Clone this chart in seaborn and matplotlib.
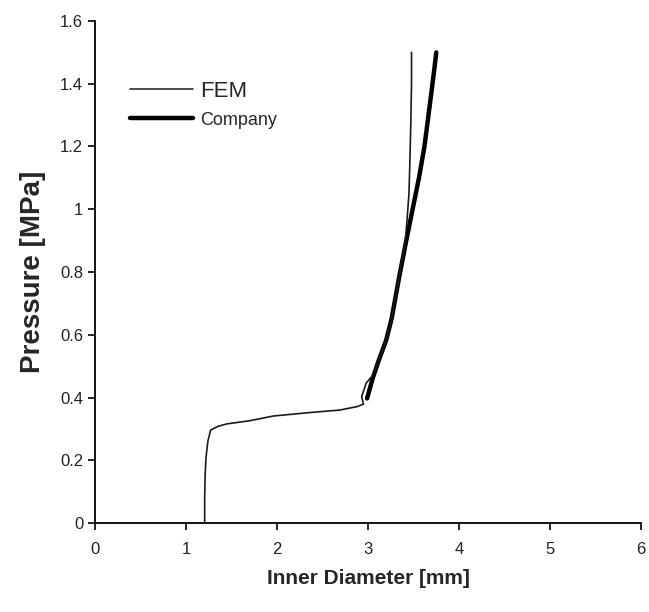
import matplotlib
matplotlib.use("Agg")
import matplotlib.pyplot as plt
import seaborn as sns
import pandas as pd
from matplotlib.lines import Line2D

# FEM curve (inner diameter in mm, pressure in MPa)
fem_d = [1.205, 1.205, 1.21, 1.22, 1.24, 1.27, 1.35, 1.45, 1.70, 1.96, 2.03, 2.36,
         2.69, 2.88, 2.95, 2.93, 2.98, 3.05, 3.12, 3.20, 3.26, 3.34, 3.41, 3.43,
         3.45, 3.46, 3.47, 3.478, 3.478]
fem_p = [0.00, 0.08, 0.15, 0.21, 0.26, 0.296, 0.308, 0.316, 0.326, 0.341, 0.343, 0.352,
         0.360, 0.371, 0.379, 0.403, 0.446, 0.47, 0.52, 0.583, 0.652, 0.78, 0.90, 0.97,
         1.05, 1.15, 1.27, 1.40, 1.50]

# Company curve
comp_d = [2.99, 3.05, 3.12, 3.20, 3.26, 3.34, 3.42, 3.49, 3.56, 3.62, 3.66, 3.70, 3.73, 3.75]
comp_p = [0.397, 0.46, 0.52, 0.583, 0.652, 0.78, 0.90, 1.00, 1.10, 1.20, 1.29, 1.38, 1.45, 1.50]

x_ticks = [0, 1, 2, 3, 4, 5, 6]
y_ticks = [0, 0.2, 0.4, 0.6, 0.8, 1, 1.2, 1.4, 1.6]
y_labels = ["0", "0.2", "0.4", "0.6", "0.8", "1", "1.2", "1.4", "1.6"]

sns.set_style("ticks")
plt.rcParams["font.family"] = ["Liberation Sans", "DejaVu Sans"]

fem = pd.DataFrame({"d": fem_d, "p": fem_p})
comp = pd.DataFrame({"d": comp_d, "p": comp_p})

fig = plt.figure(figsize=(6.49, 6.12), dpi=100)
ax = fig.add_axes([0.1464, 0.1454, 0.8413, 0.8203])

# estimator=None so repeated x values are drawn as-is, not averaged
sns.lineplot(data=comp, x="d", y="p", sort=False, estimator=None,
             color="black", linewidth=3.2, ax=ax)
sns.lineplot(data=fem, x="d", y="p", sort=False, estimator=None,
             color="#1a1a1a", linewidth=1.2, ax=ax)

ax.set_xlim(0, 6)
ax.set_ylim(0, 1.6)
ax.set_xticks(x_ticks)
ax.set_yticks(y_ticks)
ax.set_yticklabels(y_labels)
ax.tick_params(axis="both", labelsize=12, length=5, width=1.2, color="black",
               labelcolor="#222222", direction="out")
ax.tick_params(axis="x", pad=9)
for side in ["top", "right"]:
    ax.spines[side].set_visible(False)
for side in ["left", "bottom"]:
    ax.spines[side].set_linewidth(1.3)
    ax.spines[side].set_color("black")

ax.set_xlabel("Inner Diameter [mm]", fontsize=15, fontweight="bold", labelpad=8)
ax.set_ylabel("Pressure [MPa]", fontsize=20, fontweight="bold", labelpad=10)

handles = [Line2D([], [], color="#1a1a1a", linewidth=1.1),
           Line2D([], [], color="black", linewidth=3.2)]
leg = ax.legend(handles, ["FEM", "Company"], loc="upper left",
                bbox_to_anchor=(0.027, 0.92), frameon=False, handlelength=2.85,
                handletextpad=0.3, labelspacing=0.35, fontsize=16)
leg.get_texts()[1].set_fontsize(13)

fig.savefig("out.png", dpi=100)
